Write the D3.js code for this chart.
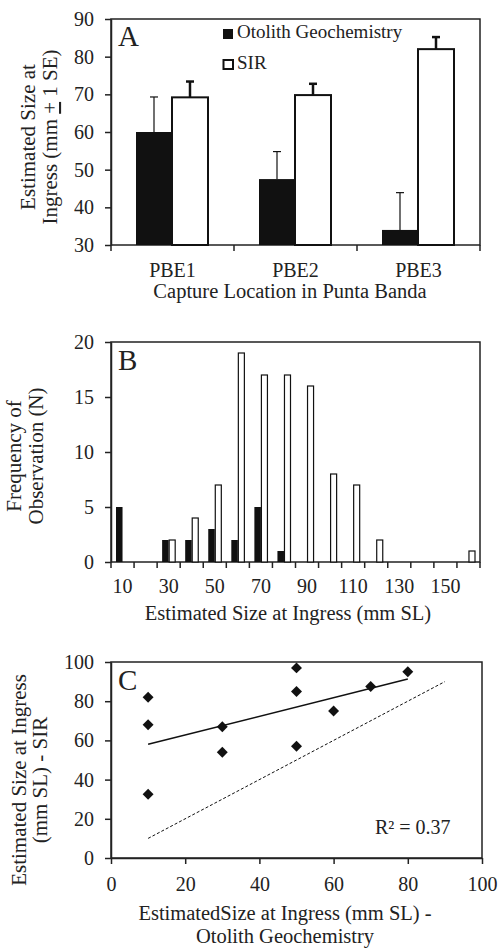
<html>
<head>
  <title>Size at ingress</title>
  <script src="https://cdn.jsdelivr.net/npm/d3@7"></script>
  <style>
    body { margin: 0; background: #fff; }
    svg text { font-family: "Liberation Serif", "Times New Roman", serif; fill: #222; }
    .axis path, .axis line { stroke: #222; stroke-width: 1.5px; }
    .axis text { font-size: 20px; }
  </style>
</head>
<body>
<div id="chart"></div>
<script type="text/javascript">

// ---- panel A data
var locations = ["PBE1", "PBE2", "PBE3"];
var otolithMean = [60, 47.5, 34];
var otolithSE = [9.3, 7.3, 9.9];
var sirMean = [69.2, 69.8, 82];
var sirSE = [4.2, 3, 3.2];
var yTicksA = [30, 40, 50, 60, 70, 80, 90];

// ---- panel B data
var sizeBins = [10, 20, 30, 40, 50, 60, 70, 80, 90, 100, 110, 120, 130, 140, 150, 160];
var otolithFreq = [5, 0, 2, 2, 3, 2, 5, 1, 0, 0, 0, 0, 0, 0, 0, 0];
var sirFreq = [0, 0, 2, 4, 7, 19, 17, 17, 16, 8, 7, 2, 0, 0, 0, 1];
var yTicksB = [0, 5, 10, 15, 20];

// ---- panel C data
var otolithSize = [10, 10, 10, 30, 30, 50, 50, 50, 60, 70, 80];
var sirSize = [82, 68, 32.5, 67, 54, 97, 85, 57, 75, 87.5, 95];
var ticksC = [0, 20, 40, 60, 80, 100];
var oneToOne = [10, 90];

var w = 499, h = 948;
var ink = "#111";
var titleSize = "20.5px";

var svg = d3.select("#chart").append("svg")
    .attr("width", w)
    .attr("height", h);

function box(x0, x1, y0, y1) {
  svg.append("rect")
     .attr("x", x0).attr("y", y0)
     .attr("width", x1 - x0).attr("height", y1 - y0)
     .attr("fill", "none")
     .attr("stroke", "#222")
     .attr("stroke-width", 1.5);
}

function ytitle(lines, xs, cy) {
  lines.forEach(function(t, i) {
    var el = svg.append("text")
       .attr("transform", "translate(" + xs[i] + "," + cy + ") rotate(-90)")
       .attr("text-anchor", "middle")
       .attr("font-size", "21px");
    if (typeof t === "string") {
      el.text(t);
    } else {
      t.forEach(function(part) {
        var ts = el.append("tspan").text(part.s);
        if (part.u) ts.style("text-decoration", "underline");
      });
    }
  });
}

function panelLabel(txt, x, y) {
  svg.append("text").attr("x", x).attr("y", y)
     .attr("font-size", "29px").text(txt);
}

// ================= Panel A =================
var ax0 = 111, ax1 = 480, ay0 = 19, ay1 = 245;
var xA = d3.scaleBand().domain(locations).range([ax0, ax1]);
var subA = d3.scaleBand().domain(["oto", "sir"]).range([25, xA.bandwidth() - 26]);
var yA = d3.scaleLinear().domain([30, 90]).range([ay1, ay0]);

box(ax0, ax1, ay0, ay1);

// error bars first so the bar tops sit over them
function errBars(means, se, key, width) {
  svg.append("g").selectAll("g")
    .data(locations)
    .enter()
    .append("g")
    .each(function(d, i) {
      var cx = xA(d) + subA(key) + subA.bandwidth() / 2;
      var top = yA(means[i] + se[i]);
      var g = d3.select(this);
      g.append("line")
       .attr("x1", cx).attr("x2", cx)
       .attr("y1", yA(means[i])).attr("y2", top)
       .attr("stroke", ink).attr("stroke-width", width);
      g.append("line")
       .attr("x1", cx - 4).attr("x2", cx + 4)
       .attr("y1", top).attr("y2", top)
       .attr("stroke", ink).attr("stroke-width", width);
    });
}
errBars(otolithMean, otolithSE, "oto", 1.2);
errBars(sirMean, sirSE, "sir", 2.5);

svg.append("g").selectAll("rect")
   .data(otolithMean)
   .enter()
   .append("rect")
   .attr("x", function(d, i) { return xA(locations[i]) + subA("oto"); })
   .attr("y", function(d) { return yA(d); })
   .attr("width", subA.bandwidth())
   .attr("height", function(d) { return yA(30) - yA(d); })
   .attr("fill", ink);

svg.append("g").selectAll("rect")
   .data(sirMean)
   .enter()
   .append("rect")
   .attr("x", function(d, i) { return xA(locations[i]) + subA("sir"); })
   .attr("y", function(d) { return yA(d); })
   .attr("width", subA.bandwidth())
   .attr("height", function(d) { return yA(30) - yA(d); })
   .attr("fill", "#fff")
   .attr("stroke", ink)
   .attr("stroke-width", 2);

svg.append("g").attr("class", "axis")
   .attr("transform", "translate(" + ax0 + ",0)")
   .call(d3.axisLeft(yA).tickValues(yTicksA).tickSize(6).tickSizeOuter(0).tickPadding(11));

var xAxisA = svg.append("g").attr("class", "axis")
   .attr("transform", "translate(0," + ay1 + ")")
   .call(d3.axisBottom(xA).tickSize(0).tickPadding(18));
xAxisA.select(".domain").remove();
// ticks sit on category boundaries
svg.append("g").selectAll("line")
   .data(locations.concat(["end"]))
   .enter()
   .append("line")
   .attr("x1", function(d, i) { return ax0 + i * xA.step(); })
   .attr("x2", function(d, i) { return ax0 + i * xA.step(); })
   .attr("y1", ay1).attr("y2", ay1 + 6)
   .attr("stroke", "#222").attr("stroke-width", 1.5);

svg.append("text").attr("x", 290).attr("y", 298)
   .attr("text-anchor", "middle").attr("font-size", titleSize)
   .text("Capture Location in Punta Banda");

ytitle(["Estimated Size at",
        [{s: "Ingress (mm "}, {s: "+", u: true}, {s: " 1 SE)"}]], [35, 57], 137);
panelLabel("A", 118, 46);

// legend
svg.append("rect").attr("x", 223).attr("y", 29).attr("width", 10).attr("height", 10).attr("fill", ink);
svg.append("text").attr("x", 237).attr("y", 38).attr("font-size", "19px").text("Otolith Geochemistry");
svg.append("rect").attr("x", 223.5).attr("y", 60).attr("width", 9.5).attr("height", 9)
   .attr("fill", "#fff").attr("stroke", ink).attr("stroke-width", 2);
svg.append("text").attr("x", 237).attr("y", 69).attr("font-size", "19px").text("SIR");

// ================= Panel B =================
var bx0 = 111, bx1 = 480, by0 = 342, by1 = 562;
var xB = d3.scaleBand().domain(sizeBins).range([bx0, bx1]);
var subB = d3.scaleBand().domain(["oto", "sir"]).range([5, xB.bandwidth() - 5]);
var yB = d3.scaleLinear().domain([0, 20]).range([by1, by0]);

box(bx0, bx1, by0, by1);

svg.append("g").selectAll("rect")
   .data(otolithFreq)
   .enter()
   .append("rect")
   .attr("x", function(d, i) { return xB(sizeBins[i]) + subB("oto"); })
   .attr("y", function(d) { return yB(d); })
   .attr("width", subB.bandwidth())
   .attr("height", function(d) { return yB(0) - yB(d); })
   .attr("fill", ink);

svg.append("g").selectAll("rect")
   .data(sirFreq.map(function(d, i) { return {bin: sizeBins[i], n: d}; })
                .filter(function(d) { return d.n > 0; }))
   .enter()
   .append("rect")
   .attr("x", function(d) { return xB(d.bin) + subB("sir") + 0.5; })
   .attr("y", function(d) { return yB(d.n); })
   .attr("width", subB.bandwidth() - 0.5)
   .attr("height", function(d) { return yB(0) - yB(d.n); })
   .attr("fill", "#fff")
   .attr("stroke", ink)
   .attr("stroke-width", 1.2);

svg.append("g").attr("class", "axis")
   .attr("transform", "translate(" + bx0 + ",0)")
   .call(d3.axisLeft(yB).tickValues(yTicksB).tickSize(6).tickSizeOuter(0).tickPadding(11));

var xAxisB = svg.append("g").attr("class", "axis")
   .attr("transform", "translate(0," + by1 + ")")
   .call(d3.axisBottom(xB).tickSize(0).tickPadding(17)
         .tickFormat(function(d, i) { return i % 2 === 0 ? d : ""; }));
xAxisB.select(".domain").remove();
svg.append("g").selectAll("line")
   .data(sizeBins.concat(["end"]))
   .enter()
   .append("line")
   .attr("x1", function(d, i) { return bx0 + i * xB.step(); })
   .attr("x2", function(d, i) { return bx0 + i * xB.step(); })
   .attr("y1", by1).attr("y2", by1 + 6)
   .attr("stroke", "#222").attr("stroke-width", 1.5);

svg.append("text").attr("x", 288).attr("y", 620)
   .attr("text-anchor", "middle").attr("font-size", titleSize)
   .text("Estimated Size at Ingress (mm SL)");

ytitle(["Frequency of", "Observation (N)"], [21, 43], 456);
panelLabel("B", 118, 370);

// ================= Panel C =================
var cx0 = 111, cx1 = 482, cy0 = 662, cy1 = 858;
var xC = d3.scaleLinear().domain([0, 100]).range([cx0, cx1]);
var yC = d3.scaleLinear().domain([0, 100]).range([cy1, cy0]);

box(cx0, cx1, cy0, cy1);

// least squares fit through the points
var mx = d3.mean(otolithSize), my = d3.mean(sirSize);
var sxy = d3.sum(otolithSize, function(x, i) { return (x - mx) * (sirSize[i] - my); });
var sxx = d3.sum(otolithSize, function(x) { return (x - mx) * (x - mx); });
var slope = sxy / sxx, icpt = my - slope * mx;
var xr = d3.extent(otolithSize);

svg.append("line")
   .attr("x1", xC(oneToOne[0])).attr("y1", yC(oneToOne[0]))
   .attr("x2", xC(oneToOne[1])).attr("y2", yC(oneToOne[1]))
   .attr("stroke", ink).attr("stroke-width", 1)
   .attr("stroke-dasharray", "3,2");

svg.append("line")
   .attr("x1", xC(xr[0])).attr("y1", yC(icpt + slope * xr[0]))
   .attr("x2", xC(xr[1])).attr("y2", yC(icpt + slope * xr[1]))
   .attr("stroke", ink).attr("stroke-width", 1.5);

svg.append("g").selectAll("path")
   .data(otolithSize)
   .enter()
   .append("path")
   .attr("d", d3.symbol().type(d3.symbolSquare).size(60))
   .attr("transform", function(d, i) {
     return "translate(" + xC(d) + "," + yC(sirSize[i]) + ") rotate(45)";
   })
   .attr("fill", ink);

svg.append("g").attr("class", "axis")
   .attr("transform", "translate(" + cx0 + ",0)")
   .call(d3.axisLeft(yC).tickValues(ticksC).tickSize(6).tickSizeOuter(0).tickPadding(11));
svg.append("g").attr("class", "axis")
   .attr("transform", "translate(0," + cy1 + ")")
   .call(d3.axisBottom(xC).tickValues(ticksC).tickSize(6).tickSizeOuter(0).tickPadding(13));

svg.append("text").attr("x", 375).attr("y", 834).attr("font-size", "20px").text("R² = 0.37");

svg.append("text").attr("x", 285).attr("y", 920)
   .attr("text-anchor", "middle").attr("font-size", titleSize)
   .text("EstimatedSize at Ingress (mm SL) -");
svg.append("text").attr("x", 285).attr("y", 943)
   .attr("text-anchor", "middle").attr("font-size", titleSize)
   .text("Otolith Geochemistry");

ytitle(["Estimated Size at Ingress", "(mm SL) - SIR"], [26, 47], 780);
panelLabel("C", 118, 690);

</script>
</body>
</html>
